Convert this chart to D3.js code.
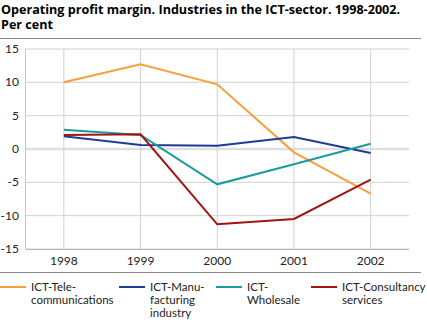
<!DOCTYPE html>
<html>
<head>
<meta charset="utf-8">
<script src="https://cdn.jsdelivr.net/npm/d3@7"></script>
<style>
  body { margin: 0; background: #fff; }
  svg { font-family: Lato, "Open Sans", sans-serif; }
  .title { font-family: "Open Sans", "Noto Sans", sans-serif; }
</style>
</head>
<body>
<script>
// operating profit margin, per cent
const years = ["1998", "1999", "2000", "2001", "2002"];
const tele = [10.0, 12.7, 9.7, -0.5, -6.7];
const manu = [1.9, 0.6, 0.5, 1.8, -0.6];
const wholesale = [2.9, 2.1, -5.3, -2.3, 0.8];
const consultancy = [2.1, 2.2, -11.3, -10.5, -4.6];
const yTicks = [-15, -10, -5, 0, 5, 10, 15];
const seriesNames = [["ICT-Tele-", "communications"], ["ICT-Manu-", "facturing", "industry"], ["ICT-", "Wholesale"], ["ICT-Consultancy", "services"]];
const colors = ["#f7a03a", "#1f3b93", "#1b9c9c", "#a01414"];

const width = 427, height = 323;
const svg = d3.select("body").append("svg")
    .attr("width", width)
    .attr("height", height);

svg.append("text")
    .attr("class", "title")
    .attr("x", 1).attr("y", 14)
    .attr("font-size", 12.6).attr("font-weight", "bold")
    .text("Operating profit margin. Industries in the ICT-sector. 1998-2002.");
svg.append("text")
    .attr("class", "title")
    .attr("x", 1).attr("y", 29)
    .attr("font-size", 12.6).attr("font-weight", "bold")
    .text("Per cent");

svg.append("line")
    .attr("x1", 0).attr("x2", 421).attr("y1", 38.5).attr("y2", 38.5)
    .attr("stroke", "#888");

const plotLeft = 25.5, plotRight = 409, plotTop = 49, plotBottom = 249;

const x = d3.scaleBand().domain(years).range([plotLeft, plotRight]);
const y = d3.scaleLinear().domain([-15, 15]).range([plotBottom, plotTop]);
const cx = d => x(d) + x.bandwidth() / 2;

// gridlines
svg.append("g")
  .selectAll("line")
  .data(yTicks)
  .join("line")
    .attr("x1", plotLeft).attr("x2", plotRight)
    .attr("y1", d => y(d)).attr("y2", d => y(d))
    .attr("stroke", d => d === 0 ? "#dedede" : "#d0d0d0")
    .attr("stroke-width", d => d === 0 ? 2.5 : 1);

svg.append("g")
  .selectAll("line")
  .data(years)
  .join("line")
    .attr("x1", cx).attr("x2", cx)
    .attr("y1", plotTop).attr("y2", plotBottom)
    .attr("stroke", "#d0d0d0");

svg.append("line")
    .attr("x1", plotLeft).attr("x2", plotLeft).attr("y1", plotTop).attr("y2", plotBottom)
    .attr("stroke", "#c8c8c8");
svg.append("line")
    .attr("x1", plotLeft).attr("x2", plotRight).attr("y1", plotBottom + 0.5).attr("y2", plotBottom + 0.5)
    .attr("stroke", "#b8b8b8");

// axis labels
svg.append("g")
  .selectAll("text")
  .data(yTicks)
  .join("text")
    .attr("x", 19).attr("y", d => y(d) + 4)
    .attr("text-anchor", "end")
    .attr("font-size", 12).attr("fill", "#222")
    .text(d => d);

svg.append("g")
  .selectAll("text")
  .data(years)
  .join("text")
    .attr("x", cx)
    .attr("y", 265)
    .attr("text-anchor", "middle")
    .attr("font-size", 12).attr("fill", "#222")
    .text(d => d);

// lines
const line = d3.line()
    .x((d, i) => cx(years[i]))
    .y(d => y(d));

svg.append("g")
  .selectAll("path")
  .data([tele, manu, wholesale, consultancy])
  .join("path")
    .attr("d", line)
    .attr("fill", "none")
    .attr("stroke", (d, i) => colors[i])
    .attr("stroke-width", 2);

// legend
svg.append("line")
    .attr("x1", 0).attr("x2", 421).attr("y1", 272.5).attr("y2", 272.5)
    .attr("stroke", "#888");

const legendX = [0, 119, 216, 311];
const legend = svg.append("g")
  .selectAll("g")
  .data(seriesNames)
  .join("g")
    .attr("transform", (d, i) => `translate(${legendX[i]},0)`);

legend.append("line")
    .attr("x1", 0).attr("x2", 26).attr("y1", 287).attr("y2", 287)
    .attr("stroke", (d, i) => colors[i])
    .attr("stroke-width", 2);

legend.append("text")
    .attr("font-size", 11.5).attr("fill", "#222")
  .selectAll("tspan")
  .data(d => d)
  .join("tspan")
    .attr("x", 31)
    .attr("y", (d, i) => 291 + i * 13)
    .text(d => d);
</script>
</body>
</html>
